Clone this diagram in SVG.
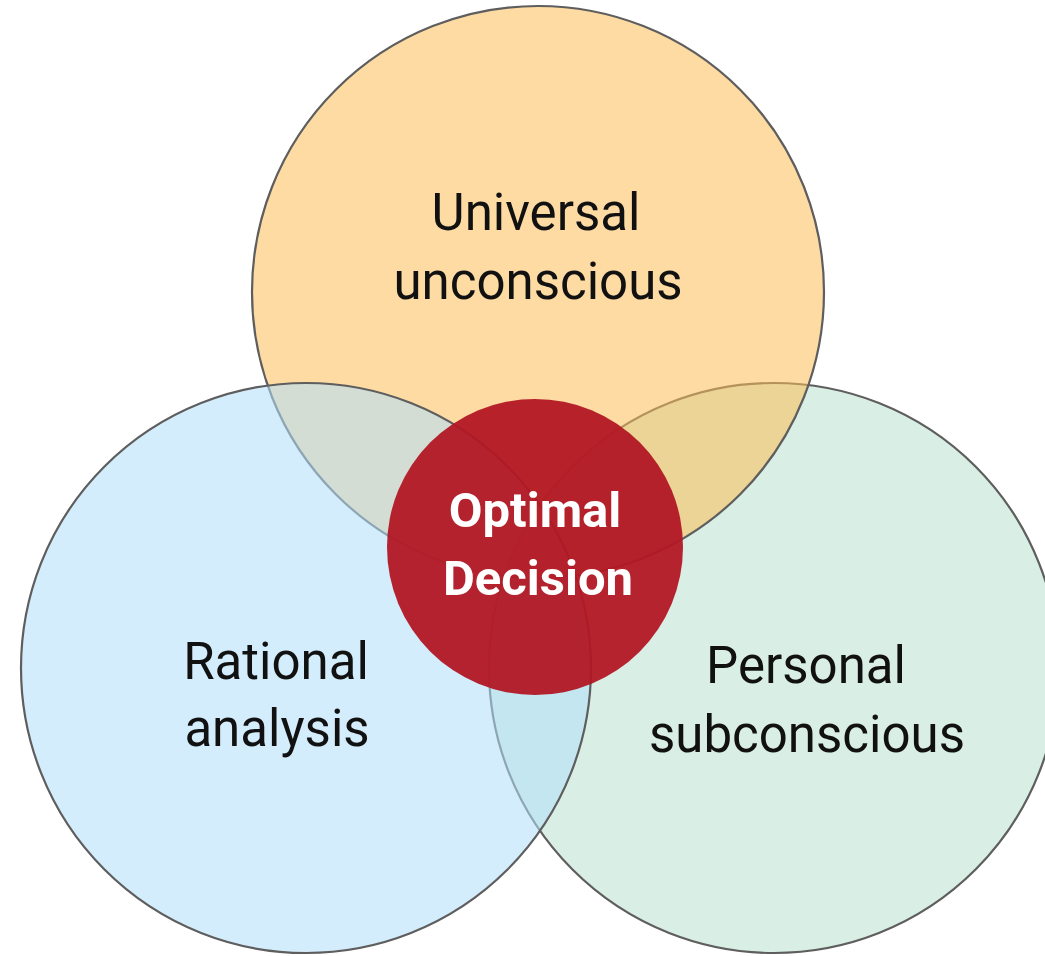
<svg xmlns="http://www.w3.org/2000/svg" width="1045" height="956" viewBox="0 0 1045 956">
<style>
.c{stroke:#5e5e5e;stroke-width:2.2}
.t{font-family:Roboto,"Liberation Sans",sans-serif;font-size:51px;fill:#111;text-anchor:middle}
.w{font-family:Roboto,"Liberation Sans",sans-serif;font-size:49px;font-weight:bold;fill:#fff;text-anchor:middle}
</style>
<rect width="1045" height="956" fill="#fff"/>
<g id="personal">
<circle class="c" cx="774" cy="668" r="285" fill="#d9efe5"/>
</g>
<g id="universal">
<circle class="c" cx="538" cy="292" r="286" fill="#fcbe58" fill-opacity="0.55"/>
</g>
<g id="rational">
<circle class="c" cx="306" cy="668" r="285" fill="#b2dffa" fill-opacity="0.56"/>
</g>
<g id="optimal">
<circle cx="535" cy="547" r="148" fill="#b21724" fill-opacity="0.95"/>
</g>
<g id="labels">
<text class="t" x="536" y="230">Universal</text>
<text class="t" x="538" y="299">unconscious</text>
<text class="t" x="276" y="679">Rational</text>
<text class="t" x="277" y="746">analysis</text>
<text class="t" x="806" y="683">Personal</text>
<text class="t" x="807" y="752">subconscious</text>
<text class="w" x="535" y="527">Optimal</text>
<text class="w" x="538" y="595">Decision</text>
</g>
<g id="connectors"/>
</svg>
